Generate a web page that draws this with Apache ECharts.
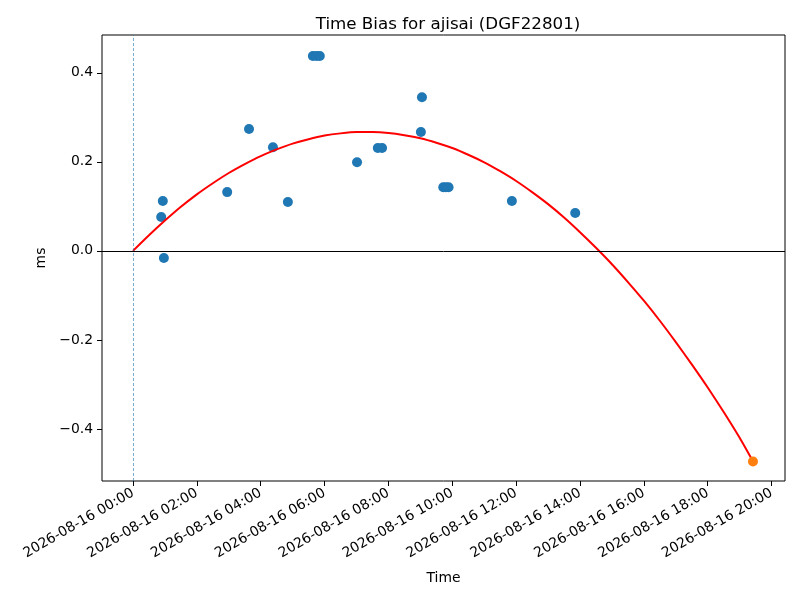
<!DOCTYPE html>
<html>
<head>
    <meta charset="UTF-8">
    <title>Time Bias</title>
    <script src="https://cdn.jsdelivr.net/npm/echarts@6/dist/echarts.min.js"></script>
    <style>
        html, body { margin: 0; padding: 0; background: #fff; }
        #chart { width: 800px; height: 600px; }
    </style>
</head>
<body>
<div id="chart"></div>
<script>
    // 观测点 (时间, ms)
    var day = '2026-08-16';
    var obsTimes = ['00:53', '00:56', '00:58', '02:57', '03:38', '04:23', '04:51', '05:38', '05:45', '05:51',
        '07:01', '07:40', '07:48', '09:01', '09:03', '09:43', '09:48', '09:53', '11:52', '13:51'];
    var obsValues = [0.076, 0.112, -0.016, 0.132, 0.274, 0.233, 0.110, 0.438, 0.438, 0.438,
        0.199, 0.231, 0.231, 0.267, 0.345, 0.143, 0.143, 0.143, 0.112, 0.085];
    // 拟合曲线 (从图上读取, 每半小时)
    var fitTimes = ['00:00', '00:30', '01:00', '01:30', '02:00', '02:30', '03:00', '03:30', '04:00', '04:30',
        '05:00', '05:30', '06:00', '06:30', '07:00', '07:30', '08:00', '08:30', '09:00', '09:30',
        '10:00', '10:30', '11:00', '11:30', '12:00', '12:30', '13:00', '13:30', '14:00', '14:30',
        '15:00', '15:30', '16:00', '16:30', '17:00', '17:30', '18:00', '18:30', '19:00', '19:25'];
    var fitValues = [0, 0.035, 0.068, 0.099, 0.127, 0.152, 0.175, 0.195, 0.213, 0.228,
        0.241, 0.251, 0.259, 0.264, 0.267, 0.267, 0.265, 0.260, 0.253, 0.243,
        0.231, 0.216, 0.199, 0.179, 0.157, 0.132, 0.105, 0.075, 0.042, 0.007,
        -0.030, -0.070, -0.112, -0.157, -0.205, -0.255, -0.307, -0.362, -0.420, -0.473];
    // 预测点
    var predTime = ['19:25'];
    var predValue = [-0.473];
    // 刻度
    var xTickLabels = ['00:00', '02:00', '04:00', '06:00', '08:00', '10:00', '12:00', '14:00', '16:00', '18:00', '20:00'];
    var yTicks = [-0.4, -0.2, 0.0, 0.2, 0.4];

    // HH:MM -> 小时 (相对 2026-08-16 00:00)
    function hrs(hm) {
        var p = hm.split(':');
        return parseInt(p[0], 10) + parseInt(p[1], 10) / 60;
    }
    function pairs(times, vals) {
        var out = [];
        for (var i = 0; i < times.length; i++) out.push([hrs(times[i]), vals[i]]);
        return out;
    }
    function pad(n) { return (n < 10 ? '0' : '') + n; }
    var xTicks = xTickLabels.map(hrs);
    var font = 'DejaVu Sans';

    var myChart = echarts.init(document.getElementById('chart'));
    var option = {
        animation: false,
        backgroundColor: '#fff',
        title: {
            text: 'Time Bias for ajisai (DGF22801)',
            left: 443, top: 11, textAlign: 'center',
            textStyle: { fontFamily: font, fontSize: 16.7, fontWeight: 'normal', color: '#000' }
        },
        grid: {
            left: 102, right: 15, top: 35, bottom: 119,
            show: true, borderColor: '#000', borderWidth: 1, backgroundColor: 'transparent'
        },
        xAxis: {
            type: 'value',
            min: -0.971, max: 20.42,
            name: 'Time', nameLocation: 'middle', nameGap: 90,
            nameTextStyle: { fontFamily: font, fontSize: 13.9, color: '#000' },
            axisLine: { show: false, onZero: false },
            splitLine: { show: false },
            axisTick: { show: true, length: 5, lineStyle: { color: '#000' }, customValues: xTicks },
            axisLabel: {
                customValues: xTicks,
                rotate: 30, margin: 11,
                fontFamily: font, fontSize: 13.9, color: '#000',
                formatter: function (v) { return day + ' ' + pad(Math.round(v)) + ':00'; }
            }
        },
        yAxis: {
            type: 'value',
            min: -0.517, max: 0.485,
            name: 'ms', nameLocation: 'middle', nameGap: 51,
            nameTextStyle: { fontFamily: font, fontSize: 13.9, color: '#000' },
            axisLine: { show: false, onZero: false },
            splitLine: { show: false },
            axisTick: { show: true, length: 5, lineStyle: { color: '#000' }, customValues: yTicks },
            axisLabel: {
                customValues: yTicks, margin: 9,
                fontFamily: font, fontSize: 13.9, color: '#000',
                formatter: function (v) { return (v < -1e-9 ? '\u2212' : '') + Math.abs(v).toFixed(1); }
            }
        },
        series: [{
            type: 'scatter',
            data: pairs(obsTimes, obsValues),
            symbolSize: 10,
            itemStyle: { color: '#1f77b4', opacity: 1 },
            z: 3,
            markLine: {
                silent: true, symbol: 'none', label: { show: false },
                data: [
                    { xAxis: 0, lineStyle: { color: '#1f77b4', type: [3, 2], width: 0.6 } },
                    { yAxis: 0, lineStyle: { color: '#000', type: 'solid', width: 1 } }
                ]
            }
        }, {
            type: 'line',
            data: pairs(fitTimes, fitValues),
            smooth: 0.2,
            showSymbol: false,
            lineStyle: { color: '#ff0000', width: 2 },
            z: 4
        }, {
            type: 'scatter',
            data: pairs(predTime, predValue),
            symbolSize: 10,
            itemStyle: { color: '#ff7f0e', opacity: 1 },
            z: 5
        }]
    };
    myChart.setOption(option);
</script>
</body>
</html>
